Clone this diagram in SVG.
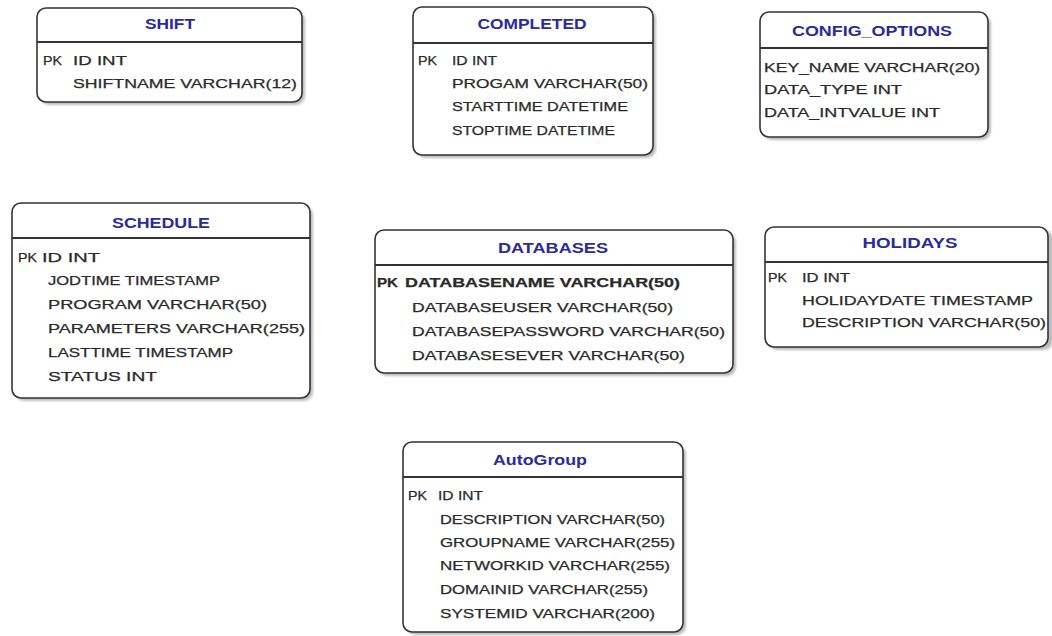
<svg xmlns="http://www.w3.org/2000/svg" width="1052" height="636" viewBox="0 0 1052 636">
<style>
.box{fill:#fff;stroke:#333;stroke-width:1.6}
.sh{fill:#bdbdbd;filter:url(#blur)}
.div{stroke:#333;stroke-width:1.8}
.t{font-family:"Liberation Sans",Arial,sans-serif;font-size:14px;font-weight:bold;fill:#2a2a9c;text-anchor:middle}
.r{font-family:"Liberation Sans",Arial,sans-serif;font-size:13px;fill:#2a2a2a;stroke:#2a2a2a;stroke-width:0.25}
</style>
<defs>
<filter id="blur" x="-5%" y="-5%" width="110%" height="110%"><feGaussianBlur stdDeviation="1.2"/></filter>
</defs>
<rect width="1052" height="636" fill="#fff"/>
<g id="connectors"></g>

<g id="shift">
<rect class="sh" x="40" y="11" width="265" height="94" rx="9"/>
<rect class="box" x="37" y="8" width="265" height="94" rx="9"/>
<line class="div" x1="37" y1="42" x2="302" y2="42"/>
<text class="t" x="170" y="29" textLength="50" lengthAdjust="spacingAndGlyphs">SHIFT</text>
<text class="r" x="43" y="64.5" textLength="19" lengthAdjust="spacingAndGlyphs">PK</text>
<text class="r" x="73" y="64.5" textLength="54" lengthAdjust="spacingAndGlyphs">ID  INT</text>
<text class="r" x="73" y="87.5" textLength="224" lengthAdjust="spacingAndGlyphs">SHIFTNAME  VARCHAR(12)</text>
</g>

<g id="completed">
<rect class="sh" x="416" y="10" width="240" height="148" rx="9"/>
<rect class="box" x="413" y="7" width="240" height="148" rx="9"/>
<line class="div" x1="413" y1="43" x2="653" y2="43"/>
<text class="t" x="532" y="29" textLength="109" lengthAdjust="spacingAndGlyphs">COMPLETED</text>
<text class="r" x="418" y="64.5" textLength="19" lengthAdjust="spacingAndGlyphs">PK</text>
<text class="r" x="452" y="64.5" textLength="45" lengthAdjust="spacingAndGlyphs">ID INT</text>
<text class="r" x="452" y="87.5" textLength="196" lengthAdjust="spacingAndGlyphs">PROGAM VARCHAR(50)</text>
<text class="r" x="452" y="111" textLength="176" lengthAdjust="spacingAndGlyphs">STARTTIME DATETIME</text>
<text class="r" x="452" y="134.5" textLength="163" lengthAdjust="spacingAndGlyphs">STOPTIME DATETIME</text>
</g>

<g id="config_options">
<rect class="sh" x="763" y="15" width="228" height="125" rx="9"/>
<rect class="box" x="760" y="12" width="228" height="125" rx="9"/>
<line class="div" x1="760" y1="48" x2="988" y2="48"/>
<text class="t" x="872" y="36" textLength="160" lengthAdjust="spacingAndGlyphs">CONFIG_OPTIONS</text>
<text class="r" x="764" y="71.5" textLength="216" lengthAdjust="spacingAndGlyphs">KEY_NAME  VARCHAR(20)</text>
<text class="r" x="764" y="93.5" textLength="138" lengthAdjust="spacingAndGlyphs">DATA_TYPE  INT</text>
<text class="r" x="764" y="116.5" textLength="176" lengthAdjust="spacingAndGlyphs">DATA_INTVALUE  INT</text>
</g>

<g id="schedule">
<rect class="sh" x="15" y="206" width="298" height="195" rx="9"/>
<rect class="box" x="12" y="203" width="298" height="195" rx="9"/>
<line class="div" x1="12" y1="238" x2="310" y2="238"/>
<text class="t" x="161" y="228" textLength="98" lengthAdjust="spacingAndGlyphs">SCHEDULE</text>
<text class="r" x="18" y="261.5" textLength="19" lengthAdjust="spacingAndGlyphs">PK</text>
<text class="r" x="42" y="261.5" textLength="58" lengthAdjust="spacingAndGlyphs">ID  INT</text>
<text class="r" x="48" y="285" textLength="172" lengthAdjust="spacingAndGlyphs">JODTIME  TIMESTAMP</text>
<text class="r" x="48" y="309" textLength="219" lengthAdjust="spacingAndGlyphs">PROGRAM   VARCHAR(50)</text>
<text class="r" x="48" y="333" textLength="257" lengthAdjust="spacingAndGlyphs">PARAMETERS   VARCHAR(255)</text>
<text class="r" x="48" y="357" textLength="185" lengthAdjust="spacingAndGlyphs">LASTTIME  TIMESTAMP</text>
<text class="r" x="48" y="381" textLength="109" lengthAdjust="spacingAndGlyphs">STATUS   INT</text>
</g>

<g id="databases">
<rect class="sh" x="378" y="233" width="358" height="143" rx="9"/>
<rect class="box" x="375" y="230" width="358" height="143" rx="9"/>
<line class="div" x1="375" y1="265" x2="733" y2="265"/>
<text class="t" x="553" y="253" textLength="110" lengthAdjust="spacingAndGlyphs">DATABASES</text>
<text class="r" x="377" y="286.5" textLength="21" lengthAdjust="spacingAndGlyphs" style="font-weight:bold">PK</text>
<text class="r" x="405" y="286.5" textLength="275" lengthAdjust="spacingAndGlyphs" style="font-weight:bold">DATABASENAME VARCHAR(50)</text>
<text class="r" x="412" y="312" textLength="261" lengthAdjust="spacingAndGlyphs">DATABASEUSER  VARCHAR(50)</text>
<text class="r" x="412" y="336" textLength="313" lengthAdjust="spacingAndGlyphs">DATABASEPASSWORD   VARCHAR(50)</text>
<text class="r" x="412" y="359.5" textLength="273" lengthAdjust="spacingAndGlyphs">DATABASESEVER   VARCHAR(50)</text>
</g>

<g id="holidays">
<rect class="sh" x="768" y="230" width="285" height="120" rx="9"/>
<rect class="box" x="765" y="227" width="283" height="120" rx="9"/>
<line class="div" x1="765" y1="262" x2="1048" y2="262"/>
<text class="t" x="910" y="248" textLength="95" lengthAdjust="spacingAndGlyphs">HOLIDAYS</text>
<text class="r" x="768" y="281.5" textLength="19" lengthAdjust="spacingAndGlyphs">PK</text>
<text class="r" x="802" y="281.5" textLength="48" lengthAdjust="spacingAndGlyphs">ID INT</text>
<text class="r" x="802" y="304.5" textLength="231" lengthAdjust="spacingAndGlyphs">HOLIDAYDATE   TIMESTAMP</text>
<text class="r" x="802" y="326.5" textLength="244" lengthAdjust="spacingAndGlyphs">DESCRIPTION   VARCHAR(50)</text>
</g>

<g id="autogroup">
<rect class="sh" x="406" y="445" width="280" height="190" rx="9"/>
<rect class="box" x="403" y="442" width="280" height="190" rx="9"/>
<line class="div" x1="403" y1="477" x2="683" y2="477"/>
<text class="t" x="540" y="465" textLength="94" lengthAdjust="spacingAndGlyphs">AutoGroup</text>
<text class="r" x="408" y="499.5" textLength="19" lengthAdjust="spacingAndGlyphs">PK</text>
<text class="r" x="438" y="499.5" textLength="45" lengthAdjust="spacingAndGlyphs">ID INT</text>
<text class="r" x="440" y="523.5" textLength="225" lengthAdjust="spacingAndGlyphs">DESCRIPTION  VARCHAR(50)</text>
<text class="r" x="440" y="546.5" textLength="235" lengthAdjust="spacingAndGlyphs">GROUPNAME  VARCHAR(255)</text>
<text class="r" x="440" y="570" textLength="230" lengthAdjust="spacingAndGlyphs">NETWORKID  VARCHAR(255)</text>
<text class="r" x="440" y="593.5" textLength="208" lengthAdjust="spacingAndGlyphs">DOMAINID  VARCHAR(255)</text>
<text class="r" x="440" y="617.5" textLength="215" lengthAdjust="spacingAndGlyphs">SYSTEMID  VARCHAR(200)</text>
</g>
</svg>
